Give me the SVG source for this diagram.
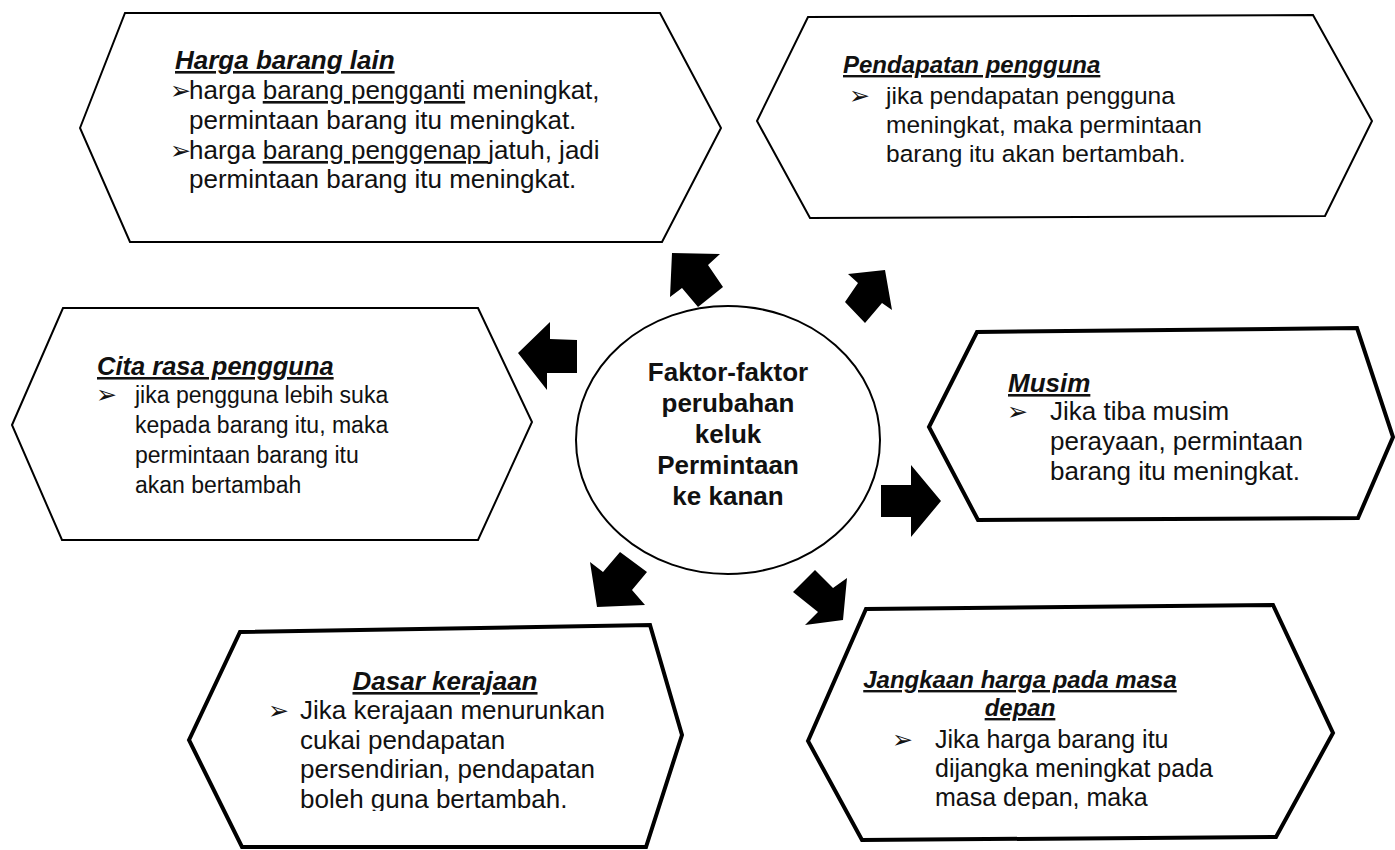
<svg xmlns="http://www.w3.org/2000/svg" width="1395" height="850" viewBox="0 0 1395 850">
<style>
.bg{fill:#fff}
.hex{fill:#fff;stroke:#000;stroke-width:2;stroke-linejoin:miter}
.hexb{fill:#fff;stroke:#000;stroke-width:4;stroke-linejoin:miter}
.t{font-family:"Liberation Sans",Arial,sans-serif;fill:#111}
.ttl{font-weight:bold;font-style:italic;text-decoration:underline}
.blt{font-family:"DejaVu Sans",sans-serif;font-size:25px}
.ctr{font-family:"Liberation Sans",Arial,sans-serif;font-weight:bold;font-size:26px;fill:#111}
.arr{fill:#000}
</style>
<defs>
<clipPath id="clipDasar"><rect x="180" y="600" width="520" height="211"/></clipPath>
<clipPath id="clipJang"><rect x="800" y="590" width="560" height="219"/></clipPath>
</defs>
<rect class="bg" x="0" y="0" width="1395" height="850"/>

<g id="node-harga">
<polygon class="hex" points="80,128 125,13 660,13 721,128 662,242 130,242"/>
<text class="t ttl" x="175" y="69" font-size="26">Harga barang lain</text>
<text class="t" font-size="26"><tspan class="blt" x="170" y="99">➢</tspan><tspan x="189" y="99">harga </tspan><tspan text-decoration="underline">barang pengganti</tspan><tspan> meningkat,</tspan></text>
<text class="t" x="189" y="129" font-size="26">permintaan barang itu meningkat.</text>
<text class="t" font-size="26"><tspan class="blt" x="170" y="159">➢</tspan><tspan x="189" y="159">harga </tspan><tspan text-decoration="underline">barang penggenap </tspan><tspan>jatuh, jadi</tspan></text>
<text class="t" x="189" y="188" font-size="26">permintaan barang itu meningkat.</text>
</g>

<g id="node-pendapatan">
<polygon class="hex" points="757,121 808,17 1313,15 1372,121 1325,216 810,218"/>
<text class="t ttl" x="843" y="73" font-size="24">Pendapatan pengguna</text>
<text class="t" font-size="24.5"><tspan class="blt" x="849" y="104">➢</tspan><tspan x="886" y="104">jika pendapatan pengguna</tspan></text>
<text class="t" x="886" y="133" font-size="24.5">meningkat, maka permintaan</text>
<text class="t" x="886" y="162" font-size="24.5">barang itu akan bertambah.</text>
</g>

<g id="node-citarasa">
<polygon class="hex" points="12,425 63,308 478,308 532,422 478,540 62,540"/>
<text class="t ttl" x="97" y="375" font-size="25.5">Cita rasa pengguna</text>
<text class="t" font-size="23"><tspan class="blt" x="96" y="403">➢</tspan><tspan x="135" y="403">jika pengguna lebih suka</tspan></text>
<text class="t" x="135" y="433" font-size="23">kepada barang itu, maka</text>
<text class="t" x="135" y="463" font-size="23">permintaan barang itu</text>
<text class="t" x="135" y="493" font-size="23">akan bertambah</text>
</g>

<g id="node-musim">
<polygon class="hexb" points="929,427 977,332 1357,328 1393,437 1358,518 978,520"/>
<text class="t ttl" x="1008" y="392" font-size="26">Musim</text>
<text class="t" font-size="26"><tspan class="blt" x="1007" y="420">➢</tspan><tspan x="1050" y="420">Jika tiba musim</tspan></text>
<text class="t" x="1050" y="450" font-size="26">perayaan, permintaan</text>
<text class="t" x="1050" y="480" font-size="26">barang itu meningkat.</text>
</g>

<g id="node-dasar">
<polygon class="hexb" points="189,740 240,632 650,625 682,735 646,847 242,847"/>
<text class="t ttl" x="445" y="690" font-size="26" text-anchor="middle">Dasar kerajaan</text>
<text class="t" font-size="26"><tspan class="blt" x="268" y="719">➢</tspan><tspan x="300" y="719">Jika kerajaan menurunkan</tspan></text>
<text class="t" x="300" y="749" font-size="26">cukai pendapatan</text>
<text class="t" x="300" y="778" font-size="26">persendirian, pendapatan</text>
<text class="t" x="300" y="808" font-size="26" clip-path="url(#clipDasar)">boleh guna bertambah.</text>
</g>

<g id="node-jangkaan">
<polygon class="hexb" points="808,741 866,609 1273,605 1333,733 1276,837 862,840"/>
<text class="t ttl" x="1020" y="688" font-size="24" text-anchor="middle">Jangkaan harga pada masa</text>
<text class="t ttl" x="1020" y="716" font-size="24" text-anchor="middle">depan</text>
<text class="t" font-size="25"><tspan class="blt" x="892" y="748">➢</tspan><tspan x="935" y="748">Jika harga barang itu</tspan></text>
<text class="t" x="935" y="777" font-size="25">dijangka meningkat pada</text>
<text class="t" x="935" y="806" font-size="25" clip-path="url(#clipJang)">masa depan, maka</text>
</g>

<g id="node-center">
<ellipse cx="728" cy="440" rx="152" ry="134" fill="#fff" stroke="#000" stroke-width="2"/>
<text class="ctr" text-anchor="middle"><tspan x="728" y="381">Faktor-faktor</tspan><tspan x="728" y="412">perubahan</tspan><tspan x="728" y="443">keluk</tspan><tspan x="728" y="474">Permintaan</tspan><tspan x="728" y="505">ke kanan</tspan></text>
</g>

<g id="connectors">
<polygon class="arr" points="672,253 720,254 708,265 723,287 698,307 682,288 670,297"/>
<polygon class="arr" points="885,270 892,310 882,303 865,323 845,302 858,283 848,274"/>
<polygon class="arr" points="518,353 550,322 550,339 577,340 577,373 547,373 547,390"/>
<polygon class="arr" points="941,501 911,537 911,517 881,517 881,485 911,485 911,465"/>
<polygon class="arr" points="597,607 590,562 603,572 620,552 647,572 632,590 645,605"/>
<polygon class="arr" points="843,620 805,625 818,612 793,592 815,570 833,588 847,578"/>
</g>
</svg>
